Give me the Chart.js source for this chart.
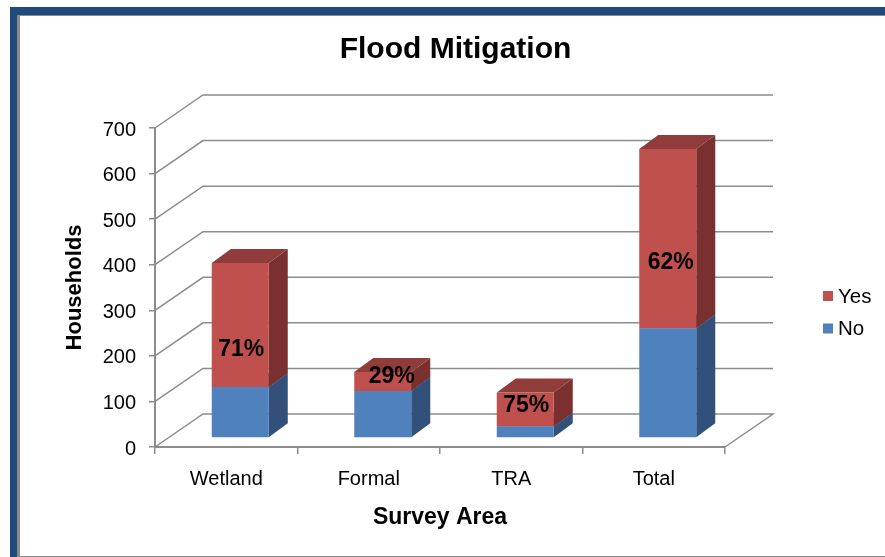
<!DOCTYPE html>
<html>
<head>
<meta charset="utf-8">
<title>Flood Mitigation</title>
<script src="https://cdn.jsdelivr.net/npm/chart.js@4/dist/chart.umd.min.js"></script>
<style>
    html, body { margin: 0; padding: 0; background: #fff; overflow: hidden; }
    #frame {
        position: absolute; left: 10px; top: 7px; width: 875px; height: 550px;
        box-sizing: border-box; background: #fff;
        border-top: 8px solid #1f4a7e; border-left: 7px solid #1f4a7e;
    }
    #frame div {
        position: absolute; left: 0; top: 0; right: 0; bottom: 0;
        border-top: 1px solid #8a8a8a; border-left: 3px solid #8a8a8a; border-bottom: 1px solid #8a8a8a;
    }
    #chartBox { position: absolute; left: 0; top: 0; width: 885px; height: 557px; }
</style>
</head>
<body>
<div id="frame"><div></div></div>
<div id="chartBox"><canvas id="floodChart" width="885" height="557"></canvas></div>
<script>
const areas = ['Wetland', 'Formal', 'TRA', 'Total'];
const noValues = [112, 103, 25, 241];
const yesValues = [272, 42, 75, 393];
const yesShare = ['71%', '29%', '75%', '62%'];
const yTicks = [0, 100, 200, 300, 400, 500, 600, 700];

const FONT = '"Liberation Sans", Arial, sans-serif';
const GRID = '#8c8c8c';

// depth of the box the chart sits in, and of the bars inside it
const wallDx = 48, wallDy = 33;
const barDx = 19, barDy = 14;
const barShiftX = 14, barShiftY = 9;

// where each percentage sits relative to the middle of its red segment
const shareNudge = [[1, 25], [9, -5], [1, -4], [3, 24]];

const faceColors = [
    { side: '#31517a', top: '#3d6392' },
    { side: '#79302e', top: '#8f3c3a' }
];

function poly(ctx, pts, color) {
    ctx.fillStyle = color;
    ctx.beginPath();
    pts.forEach((p, i) => i ? ctx.lineTo(p[0], p[1]) : ctx.moveTo(p[0], p[1]));
    ctx.closePath();
    ctx.fill();
}

// back wall, floor and the slanted part of each gridline
const boxPlugin = {
    id: 'box',
    beforeDatasetsDraw(chart) {
        const { ctx, scales: { x, y } } = chart;
        ctx.save();
        ctx.strokeStyle = GRID;
        ctx.lineWidth = 1.5;
        yTicks.forEach(v => {
            const py = y.getPixelForValue(v);
            ctx.beginPath();
            ctx.moveTo(x.left, py);
            ctx.lineTo(x.left + wallDx, py - wallDy);
            ctx.lineTo(x.right + wallDx, py - wallDy);
            if (v === 0) ctx.lineTo(x.right, py);
            ctx.stroke();
        });
        ctx.restore();
    }
};

// bars are pushed back into the box; side and top faces go on first
const depthPlugin = {
    id: 'depth',
    beforeDatasetsDraw(chart) {
        const ctx = chart.ctx;
        ctx.save();
        ctx.translate(barShiftX, -barShiftY);
        chart.data.datasets.forEach((ds, d) => {
            chart.getDatasetMeta(d).data.forEach(bar => {
                const right = bar.x + bar.width / 2;
                const left = bar.x - bar.width / 2;
                poly(ctx, [[right, bar.base], [right + barDx, bar.base - barDy], [right + barDx, bar.y - barDy], [right, bar.y]], faceColors[d].side);
                poly(ctx, [[left, bar.y], [left + barDx, bar.y - barDy], [right + barDx, bar.y - barDy], [right, bar.y]], faceColors[d].top);
            });
        });
    },
    afterDatasetsDraw(chart) {
        chart.ctx.restore();
    }
};

const shareLabelPlugin = {
    id: 'shareLabels',
    afterDatasetsDraw(chart) {
        const ctx = chart.ctx;
        ctx.save();
        ctx.font = 'bold 23px ' + FONT;
        ctx.fillStyle = '#000';
        ctx.textAlign = 'center';
        ctx.textBaseline = 'middle';
        chart.getDatasetMeta(1).data.forEach((bar, i) => {
            const midY = (bar.y + bar.base) / 2;
            ctx.fillText(yesShare[i], bar.x + barShiftX + shareNudge[i][0], midY - barShiftY + shareNudge[i][1]);
        });
        ctx.restore();
    }
};

const legendPlugin = {
    id: 'sideLegend',
    afterDraw(chart) {
        const ctx = chart.ctx;
        const rows = [chart.data.datasets[1], chart.data.datasets[0]];
        ctx.save();
        ctx.font = '20.5px ' + FONT;
        ctx.textBaseline = 'middle';
        rows.forEach((ds, i) => {
            const py = 296 + i * 32.5;
            ctx.fillStyle = ds.backgroundColor;
            ctx.fillRect(823, py - 5, 10, 10);
            ctx.fillStyle = '#000';
            ctx.fillText(ds.label, 838, py + 1);
        });
        ctx.restore();
    }
};

// the title is centred over the whole frame, not the plot
const titleCentering = {
    id: 'titleCentering',
    afterLayout(chart) {
        chart.titleBlock.left = 26;
        chart.titleBlock.right = 885;
    }
};

new Chart(document.getElementById('floodChart'), {
    type: 'bar',
    data: {
        labels: areas,
        datasets: [
            { label: 'No', data: noValues, backgroundColor: '#4f81bd', borderWidth: 0 },
            { label: 'Yes', data: yesValues, backgroundColor: '#c0504d', borderWidth: 0 }
        ]
    },
    options: {
        responsive: false,
        animation: false,
        layout: { padding: { left: 62, right: 160, top: 0, bottom: 26 } },
        datasets: { bar: { barPercentage: 0.4, categoryPercentage: 1 } },
        plugins: {
            legend: { display: false },
            tooltip: { enabled: false },
            title: {
                display: true,
                text: 'Flood Mitigation',
                color: '#000',
                font: { family: FONT, size: 30, weight: 'bold' },
                padding: { top: 32, bottom: 60 }
            }
        },
        scales: {
            x: {
                stacked: true,
                afterFit: s => { s.height = 84; },
                border: { color: GRID, width: 2 },
                grid: { color: GRID, drawOnChartArea: false, tickLength: 7, lineWidth: 1.5 },
                ticks: { color: '#000', padding: 13, maxRotation: 0, font: { family: FONT, size: 20 } },
                title: {
                    display: true,
                    text: 'Survey Area',
                    color: '#000',
                    font: { family: FONT, size: 23, weight: 'bold' },
                    padding: 0
                }
            },
            y: {
                stacked: true,
                min: 0,
                max: 700,
                afterFit: s => { s.width = 93; },
                afterBuildTicks: s => { s.ticks = yTicks.map(v => ({ value: v })); },
                border: { color: GRID, width: 2 },
                grid: { color: GRID, drawOnChartArea: false, tickLength: 6, lineWidth: 1.5 },
                ticks: { color: '#000', padding: 13, labelOffset: 2, font: { family: FONT, size: 20 } },
                title: {
                    display: true,
                    text: 'Households',
                    color: '#000',
                    font: { family: FONT, size: 22, weight: 'bold' },
                    padding: 0
                }
            }
        }
    },
    plugins: [titleCentering, boxPlugin, depthPlugin, shareLabelPlugin, legendPlugin]
});
</script>
</body>
</html>
